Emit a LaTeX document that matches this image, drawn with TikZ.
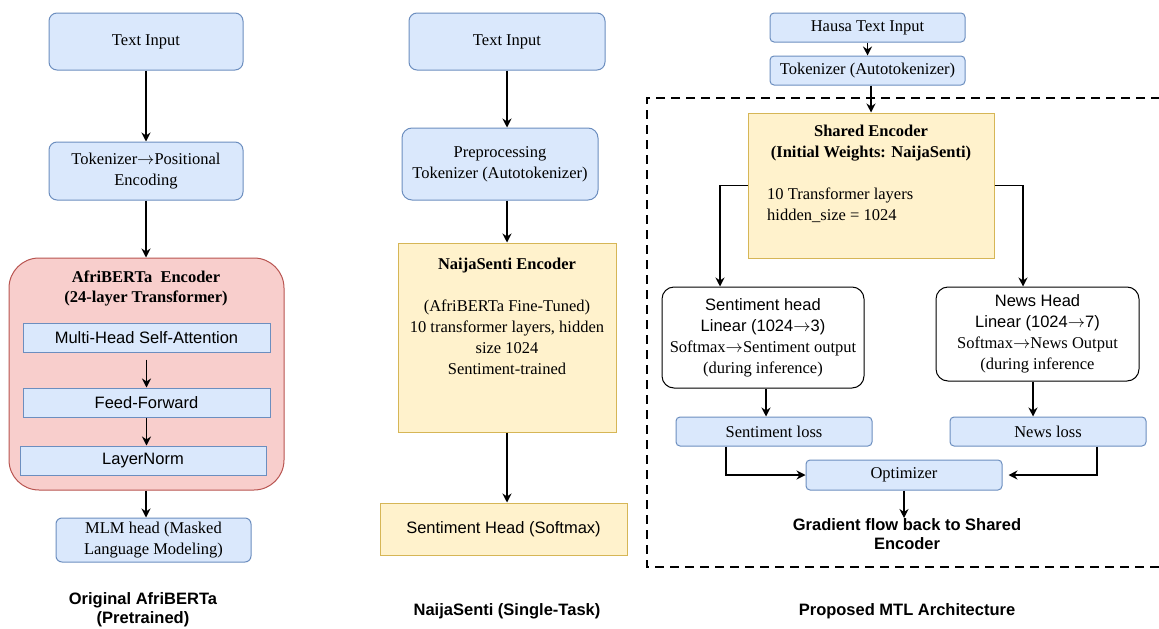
\documentclass[tikz,border=0pt]{standalone}
\usepackage{fontspec}
\setmainfont{Liberation Serif}
\setsansfont{Liberation Sans}
\usetikzlibrary{arrows.meta}

\definecolor{bluefill}{HTML}{DAE8FC}
\definecolor{bluedraw}{HTML}{6C8EBF}
\definecolor{yellowfill}{HTML}{FFF2CC}
\definecolor{yellowdraw}{HTML}{D6B656}
\definecolor{redfill}{HTML}{F8CECC}
\definecolor{reddraw}{HTML}{B85450}
\newcommand{\toarr}{$\rightarrow$}

\begin{document}
\begin{tikzpicture}[x=1pt,y=-1pt,
  box/.style={draw, line width=1pt, inner sep=0pt, align=center, font=\fontsize{16.5}{21}\selectfont},
  bluebox/.style={box, fill=bluefill, draw=bluedraw},
  yellowbox/.style={box, fill=yellowfill, draw=yellowdraw},
  headbox/.style={box, fill=white, draw=black, rounded corners=12pt},
  txt/.style={inner sep=0pt, align=center, font=\fontsize{16.5}{21}\selectfont},
  captxt/.style={inner sep=0pt, align=center, font=\sffamily\bfseries\fontsize{16.5}{19.5}\selectfont},
  arr/.style={-{Stealth[length=9pt,width=9pt]}, line width=1.3pt}]
  \useasboundingbox (0,0) rectangle (1159,629);

  % original AfriBERTa
  \node[bluebox, rounded corners=8pt, minimum width=194pt, minimum height=57pt] (tin1) at (146,41.5) {Text Input};
  \node[bluebox, rounded corners=8pt, minimum width=194pt, minimum height=58pt] (tok1) at (146,171) {Tokenizer\toarr Positional\\Encoding};
  \node[box, fill=redfill, draw=reddraw, rounded corners=30pt, minimum width=275pt, minimum height=232pt] (enc1) at (146.5,374) {};
  \node[txt, font=\bfseries\fontsize{16.5}{20}\selectfont] (enc1t) at (146,288) {AfriBERTa~~Encoder\\(24-layer Transformer)};
  \node[bluebox, font=\sffamily\fontsize{16.5}{21}\selectfont, minimum width=247pt, minimum height=29pt] (mhsa) at (146.5,337.5) {Multi-Head Self-Attention};
  \node[bluebox, font=\sffamily\fontsize{16.5}{21}\selectfont, minimum width=247pt, minimum height=29pt] (ff) at (146.5,402.5) {Feed-Forward};
  \node[bluebox, font=\sffamily\fontsize{16.5}{21}\selectfont, minimum width=246pt, minimum height=29pt] (ln) at (143,460.5) {LayerNorm};
  \node[bluebox, rounded corners=6pt, minimum width=195pt, minimum height=44pt] (mlm) at (153.5,540) {MLM head (Masked\\Language Modeling)};
  \node[captxt] (cap1) at (143,609.5) {Original AfriBERTa\\(Pretrained)};
  \draw[arr] (tin1) -- (tok1);
  \draw[arr] (tok1) -- (tok1.south |- enc1.north);
  \draw[arr, shorten <=7pt] (mhsa.south) -- (mhsa.south |- ff.north);
  \draw[arr] (ff.south) -- (ff.south |- ln.north);
  \draw[arr, line width=1.6pt] (enc1.south -| tok1) -- (tok1 |- mlm.north);

  % NaijaSenti single task
  \node[bluebox, rounded corners=8pt, minimum width=196pt, minimum height=57pt] (tin2) at (507,41.5) {Text Input};
  \node[bluebox, rounded corners=10pt, minimum width=196pt, minimum height=72pt] (pre2) at (500,164) {Preprocessing\\Tokenizer (Autotokenizer)};
  \node[yellowbox, minimum width=218pt, minimum height=189pt] (enc2) at (507,337.5) {};
  \node[txt] (enc2t) at (507,316) {\textbf{NaijaSenti Encoder}\\[21pt](AfriBERTa Fine-Tuned)\\10 transformer layers, hidden\\size 1024\\Sentiment-trained};
  \node[yellowbox, font=\sffamily\fontsize{16.5}{21}\selectfont, minimum width=247pt, minimum height=52pt] (sh2) at (503.5,529) {Sentiment Head (Softmax)};
  \node[captxt] (cap2) at (507,611) {NaijaSenti (Single-Task)};
  \draw[arr] (tin2) -- (tin2.south |- pre2.north);
  \draw[arr] (tin2.south |- pre2.south) -- (tin2.south |- enc2.north);
  \draw[arr] (enc2) -- (enc2.south |- sh2.north);

  % proposed MTL
  \node[bluebox, rounded corners=4pt, minimum width=195pt, minimum height=29pt] (tin3) at (867.5,27.5) {Hausa Text Input};
  \node[bluebox, rounded corners=4pt, minimum width=195pt, minimum height=29pt] (tok3) at (867.5,70.5) {Tokenizer (Autotokenizer)};
  \draw[dashed, dash pattern=on 9pt off 6pt, line width=1.5pt] (1175,98) -- (647,98) -- (647,567) -- (1175,567);
  \node[yellowbox, minimum width=246pt, minimum height=145pt] (enc3) at (871,185.5) {};
  \node[txt, font=\bfseries\fontsize{16.5}{21}\selectfont] (enc3t) at (871,143.5) {Shared Encoder\\(Initial Weights: NaijaSenti)};
  \node[txt, align=left, anchor=west] (enc3b) at (767,205.5) {10 Transformer layers\\hidden\_size = 1024};
  \node[headbox, minimum width=202pt, minimum height=101pt] (sent3) at (763,337.5) {\sffamily Sentiment head\\\sffamily Linear (1024\toarr 3)\\Softmax\toarr Sentiment output\\(during inference)};
  \node[headbox, minimum width=203pt, minimum height=94pt] (news3) at (1037.5,334) {\sffamily News Head\\\sffamily Linear (1024\toarr 7)\\Softmax\toarr News Output\\(during inference};
  \node[bluebox, rounded corners=4pt, minimum width=196pt, minimum height=29pt] (sl3) at (774,431.5) {Sentiment loss};
  \node[bluebox, rounded corners=4pt, minimum width=196pt, minimum height=29pt] (nl3) at (1048,431.5) {News loss};
  \node[bluebox, rounded corners=4pt, minimum width=196pt, minimum height=30pt] (opt3) at (904,475) {Optimizer};
  \node[captxt, anchor=north] (grad3) at (907,518) {Gradient flow back to Shared\\Encoder};
  \node[captxt] (cap3) at (907,611) {Proposed MTL Architecture};
  \draw[arr] (tin3) -- (tok3);
  \draw[arr] ([xshift=3.5pt]tok3.south) -- ([xshift=3.5pt]tok3.south |- enc3.north);
  \draw[arr] (enc3.west) -| ([xshift=-43pt]sent3.north);
  \draw[arr] (enc3.east) -| ([xshift=-14.5pt]news3.north);
  \draw[arr] ([xshift=3pt]sent3.south) -- ([xshift=3pt]sent3.south |- sl3.north);
  \draw[arr] ([xshift=-4.5pt]news3.south) -- ([xshift=-4.5pt]news3.south |- nl3.north);
  \draw[arr] ([xshift=-48pt]sl3.south) |- (opt3.west);
  \draw[arr, shorten >=6pt] ([xshift=49pt]nl3.south) |- (opt3.east);
  \draw[arr] (opt3) -- (opt3.south |- grad3.north);
\end{tikzpicture}
\end{document}
